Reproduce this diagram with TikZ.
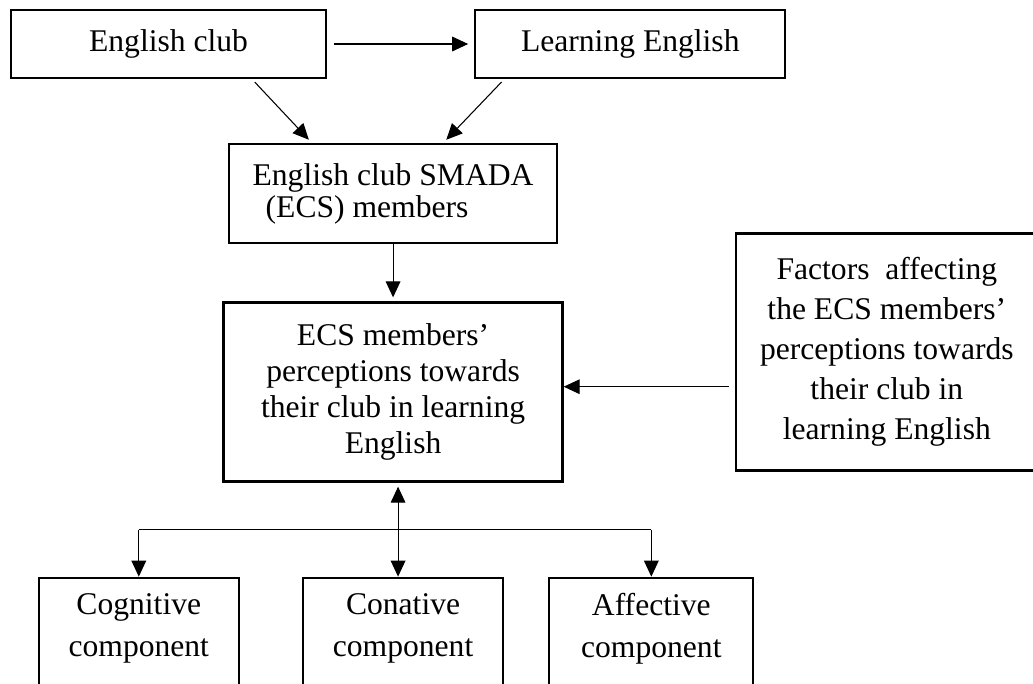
\documentclass[tikz,border=0pt]{standalone}
\usepackage{fontspec}
\setmainfont{Liberation Serif}
\usetikzlibrary{arrows.meta,positioning,calc}

\begin{document}
\begin{tikzpicture}[
  >={Triangle[length=12pt,width=11pt]},
  box/.style={draw, line width=1.7pt, inner sep=0pt, align=center,
              font=\fontsize{23.7}{30}\selectfont},
  compbox/.style={box, minimum width=150pt, minimum height=112.5pt,
                  font=\fontsize{23.7}{31.5}\selectfont},
  arr/.style={->, line width=0.8pt},
  link/.style={line width=0.8pt}
]
  \useasboundingbox (0,0) rectangle (774.75pt,-512.25pt);
  \clip (0,0) rectangle (774.75pt,-512.25pt);

  \node[box, minimum width=236.25pt, minimum height=51pt] (club) at (126.4pt,-33pt) {English club};
  \node[box, minimum width=232.5pt, minimum height=51pt, right=110.25pt of club] (learn) {Learning English};
  \node[box, minimum width=246pt, minimum height=74.25pt, below=48pt of club, xshift=168.4pt,
        font=\fontsize{23.7}{24}\selectfont] (smada)
    {English club SMADA\\(ECS) members\rule{39pt}{0pt}};
  \node[box, minimum width=254.25pt, minimum height=134.25pt, below=42.75pt of smada,
        font=\fontsize{23.7}{27}\selectfont] (percep)
    {ECS members’\\perceptions towards\\their club in learning\\English};
  \node[box, minimum width=226.5pt, minimum height=177.75pt, right=128.25pt of percep, yshift=30pt] (factor)
    {Factors~ affecting\\the ECS members’\\perceptions towards\\their club in\\learning English};
  \node[compbox, below=70.5pt of percep, xshift=7.5pt] (conat) {Conative\\component\\\strut};
  \node[compbox, left=46.5pt of conat] (cogn) {Cognitive\\component\\\strut};
  \node[compbox, minimum width=153pt, right=33pt of conat] (affec) {Affective\\component\\\strut};

  \coordinate (fin) at ([yshift=4pt]percep.east);
  \coordinate (hub) at ($(percep.south)!.5!(conat.north)$);

  \draw[arr, shorten <=5pt, shorten >=4.5pt] (club.east) -- (learn.west);
  \draw[arr, shorten <=3pt, shorten >=3.5pt] ([xshift=62.6pt]club.south) -- ([xshift=-60.75pt]smada.north);
  \draw[arr, shorten <=3pt, shorten >=3.5pt] ([xshift=-94.5pt]learn.south) -- ([xshift=37.5pt]smada.north);
  \draw[arr, shorten >=3pt] (smada.south) -- (smada.south |- percep.north);
  \draw[arr, shorten <=4.5pt] (fin -| factor.west) -- (fin);
  \draw[arr, <->, shorten <=3pt] (hub |- percep.south) -- (hub |- conat.north);
  \draw[link] (hub -| cogn) -- (hub -| affec);
  \draw[arr] (hub -| cogn) -- (cogn.north);
  \draw[arr] (hub -| affec) -- (affec.north);
\end{tikzpicture}
\end{document}
